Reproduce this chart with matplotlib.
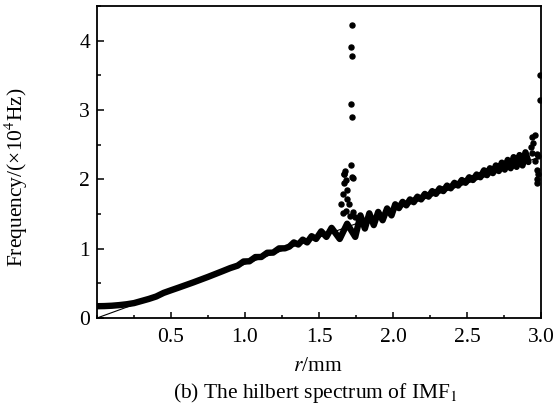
import matplotlib
matplotlib.use("Agg")
import matplotlib.pyplot as plt
from matplotlib.ticker import MultipleLocator, FixedLocator

plt.rcParams['font.family'] = ['Liberation Serif', 'DejaVu Serif']
plt.rcParams['mathtext.fontset'] = 'stix'

# main band of the hilbert spectrum (peaks/troughs)
r_curve = [0.00, 0.05, 0.10, 0.15, 0.20, 0.25, 0.30, 0.35, 0.40, 0.45,
           0.50, 0.55, 0.60, 0.65, 0.70, 0.75, 0.80, 0.85, 0.90,
           0.95, 0.99, 1.03, 1.07, 1.11, 1.15, 1.19, 1.23, 1.27,
           1.30, 1.33, 1.36, 1.39, 1.42, 1.45, 1.48, 1.515, 1.55, 1.585, 1.64,
           1.69, 1.745, 1.78, 1.81, 1.84, 1.87, 1.90, 1.93, 1.96, 1.99,
           2.015, 2.040, 2.065, 2.090, 2.115, 2.140, 2.165, 2.190, 2.215, 2.240,
           2.265, 2.290, 2.315, 2.340, 2.365, 2.390, 2.415, 2.440, 2.465, 2.490,
           2.515, 2.540, 2.565, 2.590,
           2.615, 2.635, 2.655, 2.675, 2.695, 2.715, 2.735, 2.755, 2.775, 2.795,
           2.815, 2.835, 2.855, 2.875, 2.895, 2.915]
f_curve = [0.170, 0.172, 0.177, 0.186, 0.198, 0.215, 0.245, 0.275, 0.310, 0.362,
           0.400, 0.437, 0.475, 0.513, 0.553, 0.593, 0.635, 0.677, 0.720,
           0.755, 0.815, 0.818, 0.879, 0.880, 0.941, 0.943, 1.004, 1.005,
           1.03, 1.09, 1.06, 1.13, 1.09, 1.18, 1.14, 1.25, 1.17, 1.30, 1.14,
           1.36, 1.17, 1.48, 1.29, 1.51, 1.34, 1.53, 1.41, 1.58, 1.48,
           1.64, 1.585, 1.675, 1.625, 1.71, 1.67, 1.75, 1.71, 1.79, 1.75,
           1.83, 1.79, 1.87, 1.83, 1.91, 1.87, 1.95, 1.91, 1.99, 1.95,
           2.03, 1.99, 2.07, 2.03,
           2.13, 2.06, 2.16, 2.09, 2.20, 2.12, 2.24, 2.14, 2.28, 2.16,
           2.32, 2.18, 2.35, 2.20, 2.39, 2.25]

# scattered points of the spike near r = 1.7 mm
r_spike = [1.72, 1.714, 1.725, 1.714, 1.725, 1.714, 1.676, 1.669, 1.72, 1.682,
           1.669, 1.686, 1.66, 1.686, 1.65, 1.70, 1.68, 1.73, 1.66, 1.71, 1.74,
           1.67, 1.73]
f_spike = [4.22, 3.91, 3.78, 3.08, 2.90, 2.20, 2.12, 2.07, 2.04, 1.99,
           1.94, 1.85, 1.79, 1.71, 1.65, 1.64, 1.55, 1.53, 1.51, 1.47, 1.46,
           2.08, 2.02]

# scattered points at the end of the record
r_end = [2.937, 2.96, 2.947, 2.93, 2.97, 2.96, 2.97, 2.97, 2.97, 2.98,
         2.937, 2.98, 2.995, 2.995]
f_end = [2.61, 2.64, 2.52, 2.47, 2.37, 2.27, 2.13, 2.01, 1.94, 2.08,
         2.38, 2.33, 3.51, 3.14]

# thin reference line through the origin
r_line = [0.0, 3.0]
f_line = [0.0, 2.33]

fig = plt.figure(figsize=(5.59, 4.11), dpi=100)
ax = fig.add_axes([97/559, 1-318/411, 444/559, 312/411])

ax.plot(r_line, f_line, color='black', lw=0.8, zorder=2)
ax.plot(r_curve, f_curve, color='black', lw=4.6, solid_capstyle='round',
        solid_joinstyle='round', zorder=3)
ax.scatter(r_spike, f_spike, s=13, color='black', zorder=4)
ax.scatter(r_end, f_end, s=13, color='black', zorder=4)

ax.set_xlim(0, 3.0)
ax.set_ylim(0, 4.5)
ax.xaxis.set_major_locator(FixedLocator([0.5, 1.0, 1.5, 2.0, 2.5, 3.0]))
ax.xaxis.set_minor_locator(MultipleLocator(0.25))
ax.yaxis.set_major_locator(FixedLocator([0, 1, 2, 3, 4]))
ax.yaxis.set_minor_locator(MultipleLocator(0.5))
ax.set_xticklabels(['0.5', '1.0', '1.5', '2.0', '2.5', '3.0'])
ax.tick_params(which='both', direction='in', top=False, right=False,
               labelsize=15.5, width=1.1)
ax.tick_params(axis='x', which='major', length=4, pad=7)
ax.tick_params(axis='x', which='minor', length=2.5)
ax.tick_params(axis='y', which='major', length=5, pad=5)
ax.tick_params(axis='y', which='minor', length=3)
for sp in ax.spines.values():
    sp.set_linewidth(1.3)

ax.set_xlabel('$r$/mm', fontsize=15.5)
ax.xaxis.set_label_coords(0.497, -0.157)
ax.xaxis.label.set_va('center')
ax.set_ylabel('Frequency/(\u00d710$^4$Hz)', fontsize=15.5)
ax.yaxis.set_label_coords(-0.182, 0.45)
ax.yaxis.label.set_va('center')

fig.text(315/559, 1-393/411, '(b) The hilbert spectrum of IMF$_1$',
         ha='center', va='center', fontsize=15.5)

fig.savefig('out.png', dpi=100)
